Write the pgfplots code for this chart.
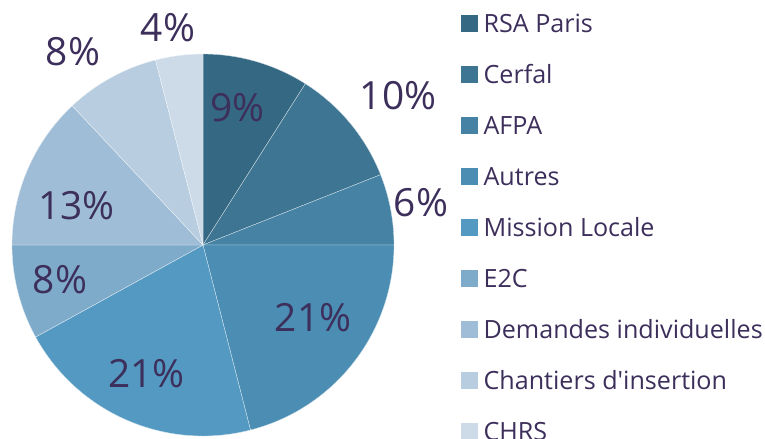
\documentclass[border=0pt]{standalone}
\usepackage{pgfplots}
\pgfplotsset{compat=1.18}
\usepackage{fontspec}
\setmainfont{Open Sans}

\definecolor{c1}{HTML}{356983}
\definecolor{c2}{HTML}{3E7592}
\definecolor{c3}{HTML}{4682A4}
\definecolor{c4}{HTML}{4B8DB3}
\definecolor{c5}{HTML}{5399C2}
\definecolor{c6}{HTML}{7EABCA}
\definecolor{c7}{HTML}{9FBDD6}
\definecolor{c8}{HTML}{B8CDDF}
\definecolor{c9}{HTML}{CDDBE8}
\definecolor{txt}{HTML}{3D2F5B}

\begin{document}
\begin{tikzpicture}
\path[use as bounding box, fill=white] (0,0) rectangle (765bp,439bp);
\begin{axis}[
    hide axis, clip=false,
    x=191bp, y=191bp,
    xmin=-1, xmax=1, ymin=-1, ymax=1,
    at={(203bp,194bp)}, anchor=center,
    legend cell align=left,
    legend style={draw=none, fill=none, inner sep=0pt,
        at={(axis cs:1.3508,1.2200)}, anchor=north west,
        text=txt, font=\fontsize{25.2}{30}\selectfont,
        nodes={inner sep=0pt, text height=20.3bp, text depth=2.3bp},
        row sep=28.4bp,
        /tikz/every odd column/.append style={column sep=6bp}},
]
% percentage / colour / label x / label y (label positions in axis units)
\gdef\curang{90}
\foreach \p/\col/\lx/\ly in {
    9/c1/0.1806/0.7199,
    10/c2/1.0209/0.7801,
    6/c3/1.1414/0.2225,
    21/c4/0.5759/-0.3796,
    21/c5/-0.2948/-0.6743,
    8/c6/-0.7487/-0.1832,
    13/c7/-0.6613/0.2052,
    8/c8/-0.6806/1.0120,
    4/c9/-0.1832/1.1361}{
  \pgfmathsetmacro\endang{\curang-3.6*\p}
  \edef\temp{\noexpand\fill[\col, draw=white!75!\col, line width=0.35bp]
    (axis cs:0,0) -- (axis cs:{cos(\curang)},{sin(\curang)})
    arc[start angle=\curang, end angle=\endang, radius=191bp] -- cycle;
    \noexpand\node[text=txt, inner sep=0pt, font=\noexpand\fontsize{39}{47}\noexpand\selectfont]
    at (axis cs:\lx,\ly) {\p\noexpand\%};}
  \temp
  \xdef\curang{\endang}
}
\addlegendimage{legend image code/.code={\fill[c1] (0bp,-8bp) rectangle (16bp,8bp);}}
\addlegendentry{RSA Paris}
\addlegendimage{legend image code/.code={\fill[c2] (0bp,-8bp) rectangle (16bp,8bp);}}
\addlegendentry{Cerfal}
\addlegendimage{legend image code/.code={\fill[c3] (0bp,-8bp) rectangle (16bp,8bp);}}
\addlegendentry{AFPA}
\addlegendimage{legend image code/.code={\fill[c4] (0bp,-8bp) rectangle (16bp,8bp);}}
\addlegendentry{Autres}
\addlegendimage{legend image code/.code={\fill[c5] (0bp,-8bp) rectangle (16bp,8bp);}}
\addlegendentry{Mission Locale}
\addlegendimage{legend image code/.code={\fill[c6] (0bp,-8bp) rectangle (16bp,8bp);}}
\addlegendentry{E2C}
\addlegendimage{legend image code/.code={\fill[c7] (0bp,-8bp) rectangle (16bp,8bp);}}
\addlegendentry{Demandes individuelles}
\addlegendimage{legend image code/.code={\fill[c8] (0bp,-8bp) rectangle (16bp,8bp);}}
\addlegendentry{Chantiers d\textquotesingle insertion}
\addlegendimage{legend image code/.code={\fill[c9] (0bp,-8bp) rectangle (16bp,8bp);}}
\addlegendentry{CHRS}
\end{axis}
\end{tikzpicture}
\end{document}
